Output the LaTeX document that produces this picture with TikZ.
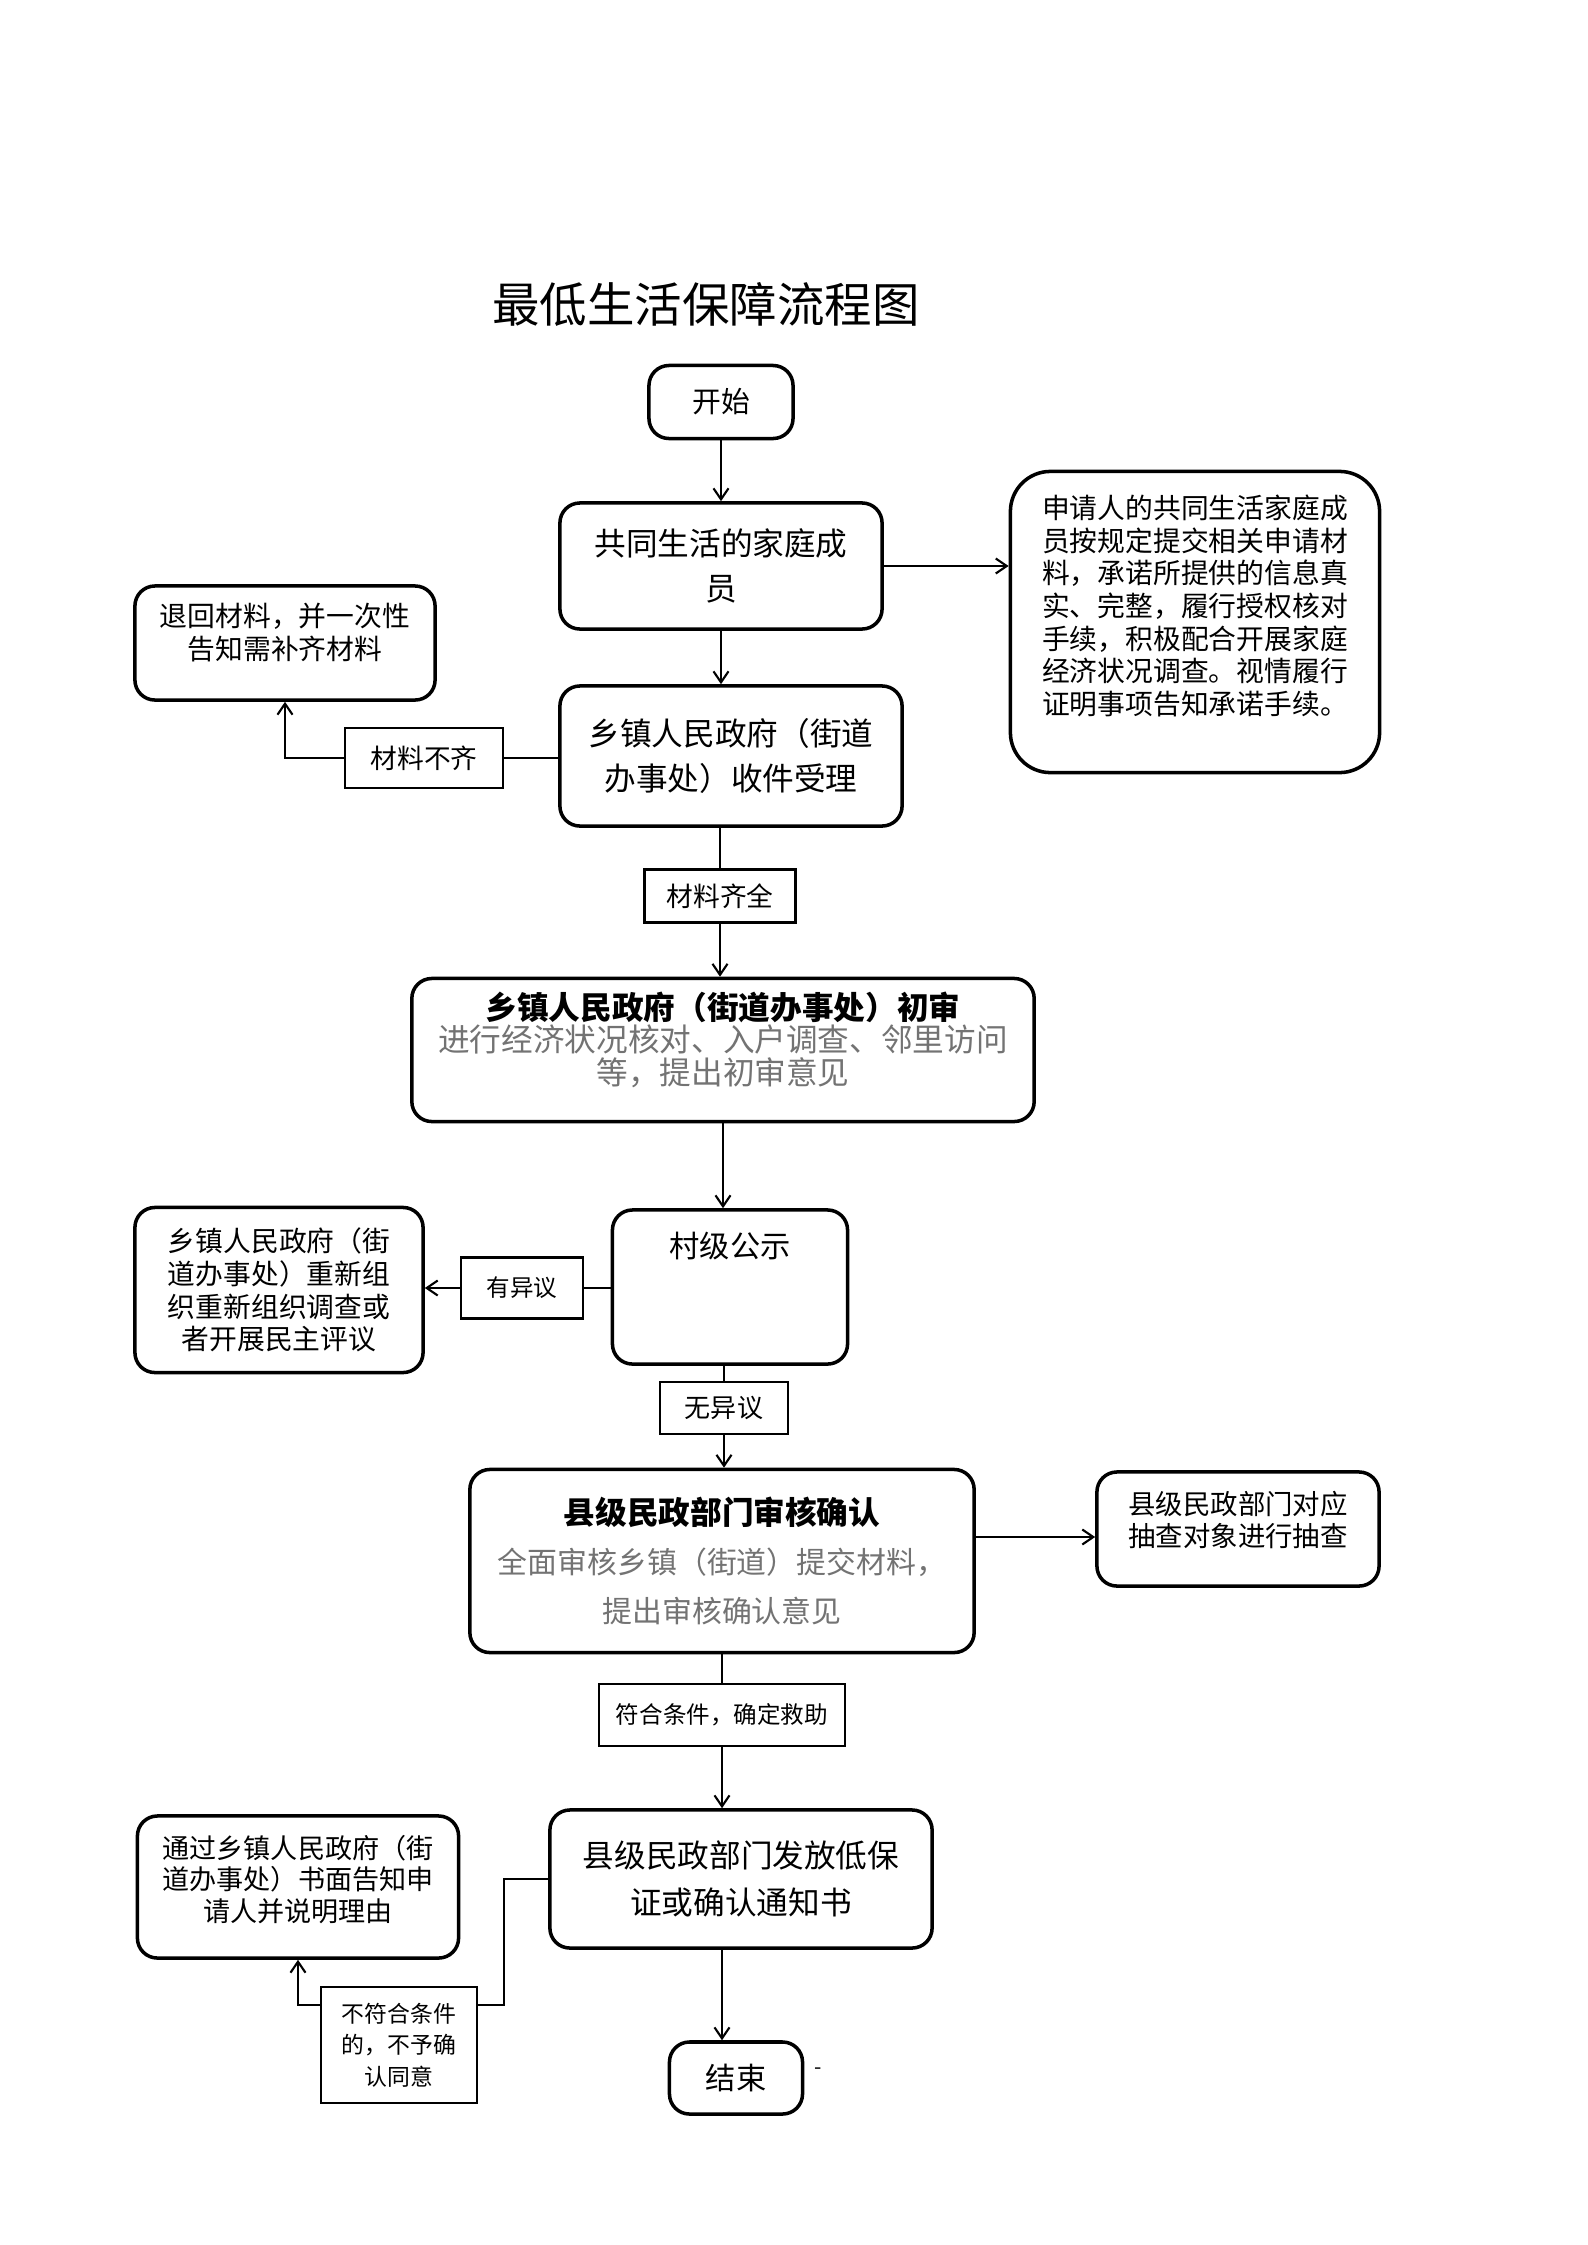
\documentclass[tikz,border=0pt]{standalone}
\usepackage{fontspec}
\setmainfont{Noto Sans CJK SC}
\usetikzlibrary{positioning,arrows.meta}
\tikzset{
  flowarrow/.style={-{Straight Barb[length=1.1mm,width=1.5mm]}, line width=0.6pt},
  flowline/.style={line width=0.6pt},
  mainbox/.style={draw, rounded corners=0.2cm, line width=1pt, align=center, inner sep=0pt, font=\fontsize{9}{13}\selectfont},
  sidebox/.style={draw, rounded corners=0.2cm, line width=1pt, align=center, inner sep=0pt, font=\fontsize{7.9}{9.3}\selectfont},
  tagbox/.style={draw, line width=0.6pt, align=center, inner sep=0pt, font=\fontsize{7.6}{9}\selectfont}
}

\begin{document}
\begin{tikzpicture}[x=0.01cm, y=-0.01cm]
  \fill[white] (0,0) rectangle (1587,2245);
  \useasboundingbox (0,0) rectangle (1587,2245);
  \node[font=\fontsize{13.5}{16}\selectfont] (title) at (706,304) {最低生活保障流程图};

  % main column
  \node[mainbox, font=\fontsize{8.2}{10}\selectfont, minimum width=1.44cm, minimum height=0.73cm] (start) at (721,402) {开始};
  \node[mainbox, minimum width=3.22cm, minimum height=1.26cm] (member) at (721,566) {共同生活的家庭成\\员};
  \node[mainbox, minimum width=3.42cm, minimum height=1.40cm] (receipt) at (731,756) {乡镇人民政府（街道\\办事处）收件受理};
  \node[tagbox, minimum width=1.51cm, minimum height=0.53cm] (tagB) at (720,896) {材料齐全};
  \node[mainbox, font=\fontsize{9}{9.2}\selectfont, text width=6.22cm, text height=0.41cm, text depth=1.02cm] (prelim) at (723,1050)
    {\textbf{乡镇人民政府（街道办事处）初审}\\\textcolor{black!55}{进行经济状况核对、入户调查、邻里访问}\\\textcolor{black!55}{等，提出初审意见}};
  \node[mainbox, font=\fontsize{8.6}{10}\selectfont, text width=2.35cm, text height=0.475cm, text depth=1.065cm] (notice) at (730,1287) {村级公示};
  \node[tagbox, font=\fontsize{7.4}{9}\selectfont, minimum width=1.28cm, minimum height=0.52cm] (tagD) at (724,1408) {无异议};
  \node[mainbox, font=\fontsize{9}{13.9}\selectfont, minimum width=5.04cm, minimum height=1.83cm] (verify) at (722,1561)
    {\textbf{县级民政部门审核确认}\\\textcolor{black!55}{\fontsize{8.5}{13.9}\selectfont 全面审核乡镇（街道）提交材料，}\\\textcolor{black!55}{\fontsize{8.5}{13.9}\selectfont 提出审核确认意见}};
  \node[tagbox, font=\fontsize{6.7}{9}\selectfont, minimum width=2.46cm, minimum height=0.62cm] (tagE) at (722,1715) {符合条件，确定救助};
  \node[mainbox, font=\fontsize{9}{13.4}\selectfont, minimum width=3.82cm, minimum height=1.38cm] (issue) at (741,1879) {县级民政部门发放低保\\证或确认通知书};
  \node[mainbox, font=\fontsize{8.6}{10}\selectfont, minimum width=1.33cm, minimum height=0.72cm] (finish) at (736,2078) {结束};
  \node[font=\fontsize{6}{7}\selectfont] (dash) at (818,2071) {-};

  % side boxes
  \node[sidebox, rounded corners=0.4cm, text width=3.69cm, text height=0.47cm, text depth=2.54cm] (pledge) at (1195,622)
    {申请人的共同生活家庭成\\员按规定提交相关申请材\\料，承诺所提供的信息真\\实、完整，履行授权核对\\手续，积极配合开展家庭\\经济状况调查。视情履行\\证明事项告知承诺手续。};
  \node[sidebox, text width=3.00cm, text height=0.405cm, text depth=0.735cm] (returnbox) at (285,643) {退回材料，并一次性\\告知需补齐材料};
  \node[tagbox, minimum width=1.58cm, minimum height=0.60cm] (tagA) at (424,758) {材料不齐};
  \node[sidebox, minimum width=2.88cm, minimum height=1.65cm] (redo) at (279,1290) {乡镇人民政府（街\\道办事处）重新组\\织重新组织调查或\\者开展民主评议};
  \node[tagbox, font=\fontsize{6.7}{9}\selectfont, minimum width=1.22cm, minimum height=0.61cm] (tagC) at (522,1288) {有异议};
  \node[sidebox, font=\fontsize{7.8}{9}\selectfont, text width=2.82cm, text height=0.425cm, text depth=0.715cm] (spot) at (1238,1529) {县级民政部门对应\\抽查对象进行抽查};
  \node[sidebox, font=\fontsize{7.7}{9}\selectfont, text width=3.21cm, text height=0.42cm, text depth=1.00cm] (inform) at (298,1887)
    {通过乡镇人民政府（街\\道办事处）书面告知申\\请人并说明理由};
  \node[tagbox, font=\fontsize{6.5}{9}\selectfont, minimum width=1.56cm, minimum height=1.16cm] (tagF) at (399,2045) {不符合条件\\的，不予确\\认同意};
  \coordinate (bend) at (504,2005);

  % connectors
  \draw[flowarrow] (start) -- (member);
  \draw[flowarrow] (member.east) -- (member.east -| pledge.west);
  \draw[flowarrow] (member.south) -- (member.south |- receipt.north);
  \draw[flowline] (receipt.west |- tagA.east) -- (tagA.east);
  \draw[flowarrow] (tagA.west) -| (returnbox.south);
  \draw[flowline] (tagB.north |- receipt.south) -- (tagB.north);
  \draw[flowarrow] (tagB.south) -- (tagB.south |- prelim.north);
  \draw[flowarrow] (prelim.south) -- (prelim.south |- notice.north);
  \draw[flowline] (notice.west |- tagC.east) -- (tagC.east);
  \draw[flowarrow] (tagC.west) -- (tagC.west -| redo.east);
  \draw[flowline] (tagD.north |- notice.south) -- (tagD.north);
  \draw[flowarrow] (tagD.south) -- (tagD.south |- verify.north);
  \draw[flowarrow] ([yshift=0.24cm]verify.east) -- ([yshift=0.24cm]verify.east -| spot.west);
  \draw[flowline] (verify.south) -- (tagE.north);
  \draw[flowarrow] (tagE.south) -- (tagE.south |- issue.north);
  \draw[flowline] (issue.west) -| (bend) -- (bend -| tagF.east);
  \draw[flowarrow] (bend -| tagF.west) -| (inform.south);
  \draw[flowarrow] (tagE.south |- issue.south) -- (tagE.south |- finish.north);
\end{tikzpicture}
\end{document}
